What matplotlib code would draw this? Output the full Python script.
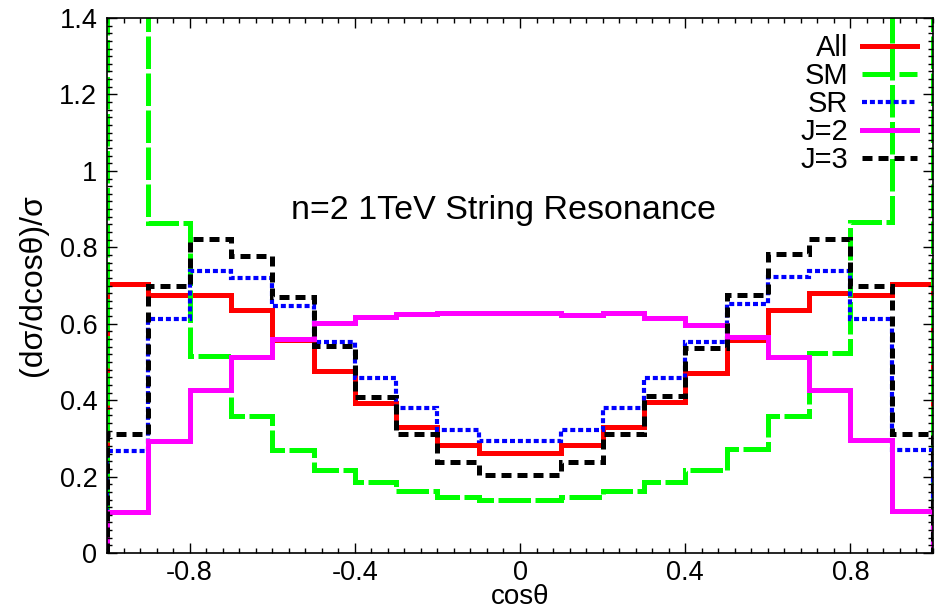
import matplotlib
matplotlib.use('Agg')
import matplotlib.pyplot as plt
from matplotlib.ticker import MultipleLocator, FixedLocator

bin_edges = [-1.0, -0.9, -0.8, -0.7, -0.6, -0.5, -0.4, -0.3, -0.2, -0.1, 0.0,
             0.1, 0.2, 0.3, 0.4, 0.5, 0.6, 0.7, 0.8, 0.9, 1.0]

all_vals = [0.704, 0.675, 0.675, 0.636, 0.558, 0.475, 0.392, 0.331, 0.283, 0.261,
            0.261, 0.283, 0.331, 0.394, 0.470, 0.558, 0.636, 0.681, 0.675, 0.704]
sm_vals = [2.0, 0.863, 0.516, 0.359, 0.270, 0.217, 0.187, 0.163, 0.147, 0.139,
           0.139, 0.147, 0.163, 0.187, 0.217, 0.272, 0.359, 0.523, 0.865, 2.0]
sr_vals = [0.268, 0.612, 0.737, 0.719, 0.647, 0.551, 0.457, 0.379, 0.322, 0.294,
           0.294, 0.322, 0.379, 0.457, 0.553, 0.652, 0.723, 0.737, 0.612, 0.270]
j2_vals = [0.108, 0.294, 0.427, 0.512, 0.559, 0.601, 0.617, 0.626, 0.627, 0.627,
           0.627, 0.623, 0.627, 0.614, 0.597, 0.566, 0.512, 0.427, 0.296, 0.111]
j3_vals = [0.312, 0.699, 0.821, 0.776, 0.671, 0.542, 0.409, 0.312, 0.239, 0.204,
           0.204, 0.239, 0.312, 0.411, 0.536, 0.675, 0.783, 0.821, 0.699, 0.312]

labels = ['All', 'SM', 'SR', 'J=2', 'J=3']
x_ticks = [-0.8, -0.4, 0, 0.4, 0.8]
y_ticks = [0, 0.2, 0.4, 0.6, 0.8, 1.0, 1.2, 1.4]

plt.rcParams['font.family'] = ['Liberation Sans', 'DejaVu Sans']

fig = plt.figure(figsize=(9.36, 6.10), dpi=100)
ax = fig.add_axes([107/936, 1-553/610, (933-107)/936, (553-18)/610])

styles = [
    dict(color='#ff0000', lw=3.6, linestyle='-'),
    dict(color='#00ff00', lw=3.6, linestyle=(0, (6.5, 0.9))),
    dict(color='#0000ff', lw=3.0, linestyle=(0, (1.2, 0.7))),
    dict(color='#ff00ff', lw=3.6, linestyle='-'),
    dict(color='#000000', lw=3.6, linestyle=(0, (2.0, 1.2))),
]
series = [all_vals, sm_vals, sr_vals, j2_vals, j3_vals]

handles = []
for vals, st, lab in zip(series, styles, labels):
    ax.stairs(vals, bin_edges, baseline=0, fill=False, label=lab, **st)
    handles.append(plt.Line2D([], [], label=lab, **st))

ax.set_xlim(-1, 1)
ax.set_ylim(0, 1.4)
ax.xaxis.set_major_locator(FixedLocator(x_ticks))
ax.xaxis.set_minor_locator(MultipleLocator(0.04))
ax.yaxis.set_major_locator(FixedLocator(y_ticks))
ax.yaxis.set_minor_locator(MultipleLocator(0.02))
ax.set_xticklabels(['-0.8', '-0.4', '0', '0.4', '0.8'])
ax.set_yticklabels(['0', '0.2', '0.4', '0.6', '0.8', '1', '1.2', '1.4'])
ax.tick_params(which='both', direction='in', top=True, right=True, labelsize=19.5,
               colors='black')
ax.tick_params(which='major', length=7, width=1.0, pad=7)
ax.tick_params(axis='x', which='major', pad=5)
ax.tick_params(which='minor', length=3.5, width=1.0)
for s in ax.spines.values():
    s.set_linewidth(1.2)

ax.set_xlabel('cosθ', fontsize=20)
ax.xaxis.label.set_va('center')
ax.xaxis.set_label_coords(0.5, (553 - 597) / 535)
ax.set_ylabel('(dσ/dcosθ)/σ', fontsize=23, labelpad=8)

ax.text(-0.04, 0.895, 'n=2 1TeV String Resonance', fontsize=24.5,
        ha='center', va='center')

leg = ax.legend(handles=handles, loc='upper right', frameon=False, fontsize=21,
                markerfirst=False, handlelength=1.9, handletextpad=0.45,
                labelspacing=0.0, borderaxespad=0.3, borderpad=0.25)
for t in leg.get_texts():
    t.set_ha('right')

fig.savefig('out.png', dpi=100)
